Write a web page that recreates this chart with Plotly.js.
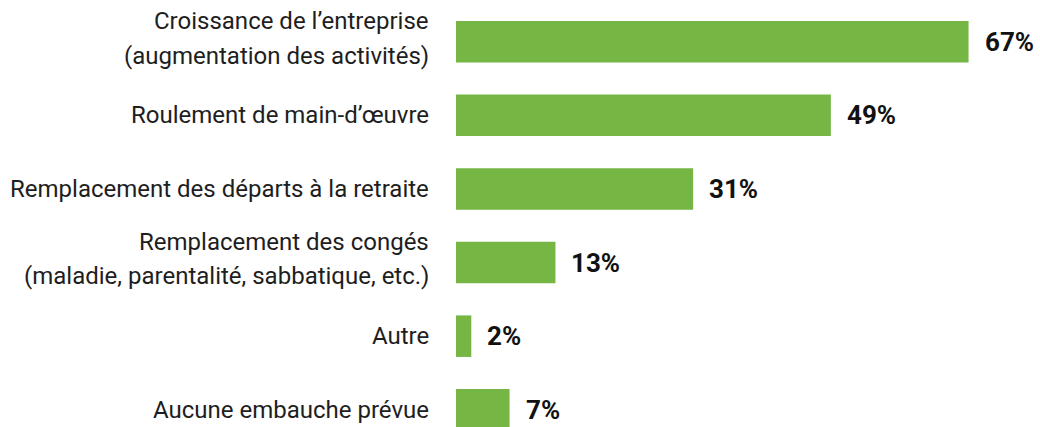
<!DOCTYPE html>
<html>
<head>
<meta charset="utf-8">
<script src="https://cdn.plot.ly/plotly-3.0.1.min.js"></script>
<style>html,body{margin:0;padding:0;background:#fff;}#chart{width:1040px;height:427px;}</style>
</head>
<body>
<div id="chart"></div>
<script>
const categories = [
  ["Croissance de l’entreprise", "(augmentation des activités)"],
  ["Roulement de main-d’œuvre"],
  ["Remplacement des départs à la retraite"],
  ["Remplacement des congés", "(maladie, parentalité, sabbatique, etc.)"],
  ["Autre"],
  ["Aucune embauche prévue"]
];
const values = [67, 49, 31, 13, 2, 7];
const valueLabels = ["67%", "49%", "31%", "13%", "2%", "7%"];

const catKeys = categories.map(c => c.join(" "));
const green = "#75b644";

const annotations = [];
categories.forEach((lines, i) => {
  const shifts = lines.length === 2 ? [20.4, -13.9] : [0];
  lines.forEach((ln, j) => {
    annotations.push({
      x: 0, xref: "x", y: catKeys[i], yref: "y",
      text: ln, showarrow: false, xanchor: "right", yanchor: "middle",
      xshift: -25, yshift: shifts[j],
      font: {family: "Roboto, sans-serif", size: 24, color: "#1e1e1e"}
    });
  });
  annotations.push({
    x: values[i], xref: "x", y: catKeys[i], yref: "y",
    text: "<b>" + valueLabels[i] + "</b>", showarrow: false,
    xanchor: "left", yanchor: "middle", xshift: 14,
    font: {family: "Roboto, sans-serif", size: 26, color: "#111111"}
  });
});

Plotly.newPlot("chart", [{
  type: "bar", orientation: "h",
  x: values, y: catKeys,
  marker: {color: green},
  width: 0.564,
  hoverinfo: "none"
}], {
  width: 1040, height: 427,
  margin: {l: 456, r: 0, t: 0, b: 0},
  paper_bgcolor: "#fff", plot_bgcolor: "#fff",
  showlegend: false,
  xaxis: {range: [0, 76.34], visible: false, fixedrange: true},
  yaxis: {type: "category", categoryarray: catKeys, categoryorder: "array",
          range: [5.234, -0.567], showticklabels: false, showgrid: false,
          zeroline: false, showline: false, ticks: "", fixedrange: true},
  annotations: annotations
}, {displayModeBar: false, staticPlot: true});
</script>
</body>
</html>
